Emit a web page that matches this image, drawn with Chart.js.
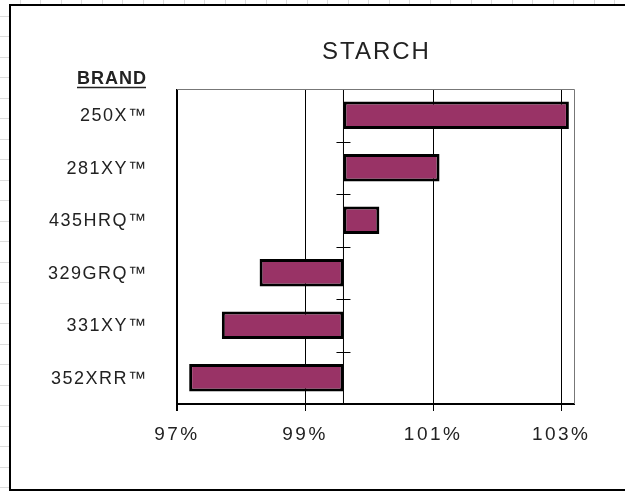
<!DOCTYPE html>
<html lang="en">
  <head>
    <meta charset="UTF-8">
    <title>Starch</title>
    <script src="https://cdn.jsdelivr.net/npm/chart.js"></script>
    <style>
      html, body {
        margin: 0;
        padding: 0;
      }
      body {
        width: 625px;
        height: 491px;
        overflow: hidden;
        position: relative;
        background-color: #fff;
        background-image:
          repeating-linear-gradient(to right, transparent 0, transparent 19.5px, #dcdcdc 19.5px, #dcdcdc 20.5px),
          repeating-linear-gradient(to bottom, transparent 0, transparent 15.5px, #dcdcdc 15.5px, #dcdcdc 16.5px, transparent 16.5px, transparent 20.5px);
      }
      #box {
        position: absolute;
        left: 9px;
        top: 4px;
        width: 640px;
        height: 483px;
        border: 2px solid #000;
        background: #fff;
      }
      #wrap {
        position: absolute;
        left: 0;
        top: 0;
        width: 625px;
        height: 491px;
      }
    </style>
  </head>
  <body>
    <div id="box"></div>
    <div id="wrap"><canvas id="starchChart"></canvas></div>
    <script>
      var brands = ['250X™', '281XY™', '435HRQ™', '329GRQ™', '331XY™', '352XRR™'];
      var baseValue = 99.6;
      var starchValues = [103.12, 101.1, 100.16, 98.29, 97.7, 97.19];
      var xTicks = [97, 99, 101, 103];

      var font = "'Liberation Sans', Arial, sans-serif";

      // category axis crossing at the base value, brand labels, title and header
      var extras = {
        id: 'extras',
        beforeDraw: function(chart) {
          // wide lettering for the % tick labels
          chart.ctx.letterSpacing = '2.5px';
        },
        beforeDatasetsDraw: function(chart) {
          var ctx = chart.ctx, a = chart.chartArea;
          var x = chart.scales.x.getPixelForValue(baseValue);
          var step = (a.bottom - a.top) / brands.length;
          ctx.save();
          ctx.strokeStyle = '#000';
          ctx.lineWidth = 1;
          ctx.beginPath();
          ctx.moveTo(x, a.top);
          ctx.lineTo(x, a.bottom);
          for (var i = 0; i <= brands.length; i++) {
            var y = Math.round(a.top + step * i) + 0.5;
            ctx.moveTo(x - 7, y);
            ctx.lineTo(x + 7, y);
          }
          ctx.stroke();
          // plot frame top / right
          ctx.strokeStyle = '#777';
          ctx.beginPath();
          ctx.moveTo(a.left, a.top + 0.5);
          ctx.lineTo(a.right + 0.5, a.top + 0.5);
          ctx.lineTo(a.right + 0.5, a.bottom);
          ctx.stroke();
          ctx.restore();
        },
        afterDraw: function(chart) {
          var ctx = chart.ctx, a = chart.chartArea;
          var yScale = chart.scales.y;
          ctx.save();
          ctx.fillStyle = '#222';
          ctx.textBaseline = 'middle';

          ctx.textAlign = 'right';
          ctx.font = '18px ' + font;
          ctx.letterSpacing = '1.5px';
          brands.forEach(function(b, i) {
            ctx.fillText(b, 147.5, yScale.getPixelForValue(i) + 1);
          });

          ctx.textAlign = 'center';
          ctx.font = '24px ' + font;
          ctx.letterSpacing = '2px';
          ctx.fillText('STARCH', (a.left + a.right) / 2 + 1, 52);

          ctx.letterSpacing = '1px';
          ctx.font = 'bold 18px ' + font;
          ctx.textAlign = 'right';
          ctx.fillText('BRAND', 147, 79);
          var w = ctx.measureText('BRAND').width - 1;
          ctx.strokeStyle = '#222';
          ctx.lineWidth = 1.5;
          ctx.beginPath();
          ctx.moveTo(146 - w, 87.5);
          ctx.lineTo(146, 87.5);
          ctx.stroke();
          ctx.restore();
          ctx.letterSpacing = '0px';
        }
      };

      new Chart(document.getElementById('starchChart'), {
        type: 'bar',
        data: {
          labels: brands,
          datasets: [{
            label: 'Starch',
            data: starchValues.map(function(v) { return [baseValue, v]; }),
            backgroundColor: '#993366',
            borderColor: '#000',
            borderWidth: 3,
            borderSkipped: false,
            categoryPercentage: 1,
            barPercentage: 0.52
          }]
        },
        options: {
          indexAxis: 'y',
          responsive: true,
          maintainAspectRatio: false,
          animation: false,
          layout: { padding: { left: 0, right: 51, top: 89, bottom: 0 } },
          plugins: {
            legend: { display: false },
            tooltip: { enabled: false }
          },
          scales: {
            x: {
              min: 97,
              max: 103.2,
              afterFit: function(scale) { scale.height = 87; },
              afterBuildTicks: function(scale) {
                scale.ticks = xTicks.map(function(v) { return { value: v }; });
              },
              grid: {
                color: '#000',
                lineWidth: function(c) { return c.index === 0 ? 2 : 1; },
                tickLength: 7
              },
              border: { display: true, color: '#000', width: 2 },
              ticks: {
                color: '#222',
                padding: 12,
                font: { family: font, size: 19 },
                callback: function(v) { return v + '%'; }
              }
            },
            y: {
              afterFit: function(scale) { scale.width = 177; },
              grid: { display: false, drawTicks: false },
              border: { display: false },
              ticks: { display: false }
            }
          }
        },
        plugins: [extras]
      });
    </script>
  </body>
</html>
